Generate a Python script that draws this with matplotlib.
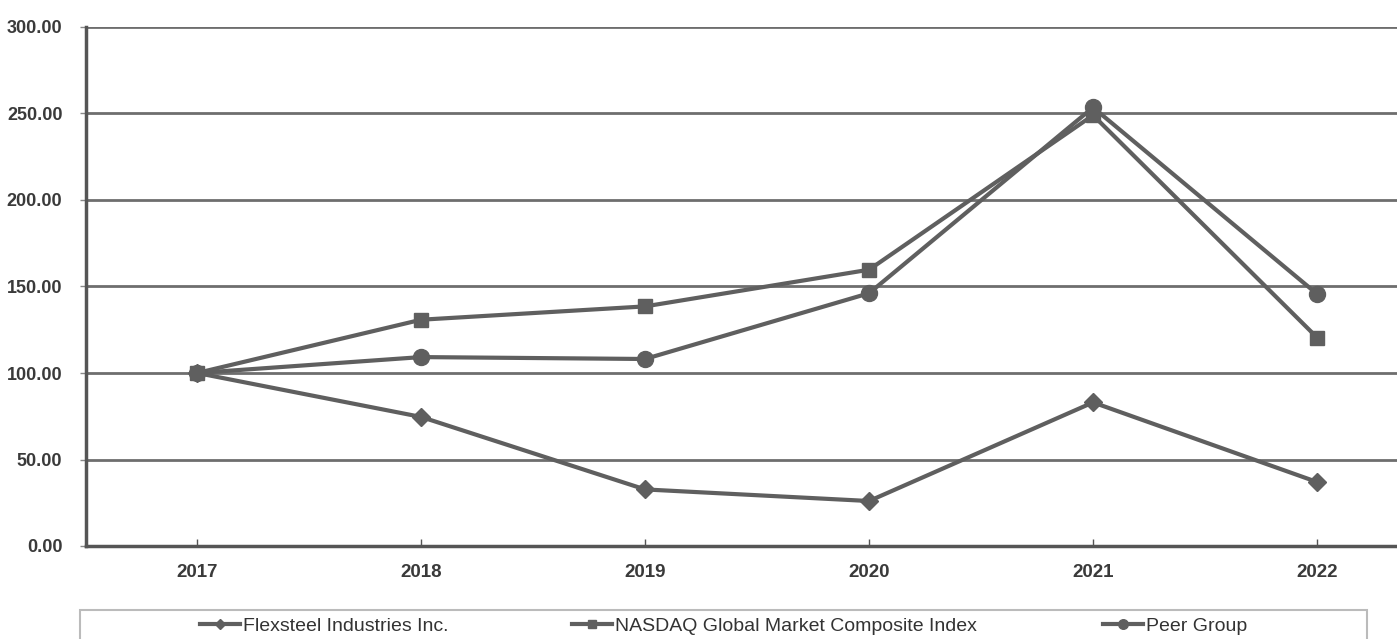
import matplotlib
matplotlib.use("Agg")
import matplotlib.pyplot as plt
from matplotlib.patches import Rectangle

years = ["2017", "2018", "2019", "2020", "2021", "2022"]
flexsteel = [100.0, 74.6, 32.7, 26.0, 83.0, 37.0]
nasdaq = [100.0, 130.8, 138.5, 159.7, 249.0, 120.5]
peer = [100.0, 109.2, 108.1, 146.1, 253.5, 145.7]
series_names = ["Flexsteel Industries Inc.", "NASDAQ Global Market Composite Index", "Peer Group"]
yticks = [0, 50, 100, 150, 200, 250, 300]

plt.rcParams['font.family'] = ['Liberation Sans', 'DejaVu Sans']

W, H = 1397, 639
fig = plt.figure(figsize=(W / 100, H / 100), dpi=100)
ax = fig.add_axes([86 / W, (H - 546) / H, (W - 86) / W, (546 - 27) / H])

col = "#5f5f5f"
grid = "#6e6e6e"
x = list(range(len(years)))
l1, = ax.plot(x, flexsteel, color=col, lw=3, marker="D", ms=9, zorder=3)
l2, = ax.plot(x, nasdaq, color=col, lw=3, marker="s", ms=9.5, zorder=3)
l3, = ax.plot(x, peer, color=col, lw=3, marker="o", ms=11.5, zorder=3)

ax.set_xlim(-0.496, 5.357)
ax.set_ylim(0, 300)
ax.set_yticks(yticks)
ax.set_yticklabels([f"{v:.2f}" for v in yticks], fontweight='bold')
ax.set_xticks(x)
ax.set_xticklabels(years, fontweight='bold')
for v in yticks[1:]:
    ax.axhline(v, color=grid, lw=2, zorder=1)
ax.spines['top'].set_visible(False)
ax.spines['right'].set_visible(False)
ax.spines['left'].set_color("#555555")
ax.spines['left'].set_linewidth(2.5)
ax.spines['bottom'].set_color("#555555")
ax.spines['bottom'].set_linewidth(2.5)
ax.tick_params(axis='y', direction='out', length=4, width=1, color="#888888",
               labelsize=13, labelcolor="#3a3a3a", pad=13)
ax.tick_params(axis='x', direction='in', length=5, width=1, color="#555555",
               labelsize=13.5, labelcolor="#3a3a3a", pad=13)

# legend frame
fig.patches.append(Rectangle((80 / W, -0.01), (1367 - 80) / W, (H - 610) / H + 0.01,
                             transform=fig.transFigure, fill=False,
                             edgecolor="#bbbbbb", lw=1.5))
starts = [200, 572, 1103]
for h, name, xs in zip([l1, l2, l3], series_names, starts):
    fig.legend([h], [name], loc='center left', bbox_to_anchor=(xs / W, (H - 626) / H),
               frameon=False, fontsize=14, handlelength=2.05, handletextpad=0.15,
               borderpad=0, borderaxespad=0, markerscale=0.6, labelcolor="#333333")

fig.savefig("out.png", dpi=100)
